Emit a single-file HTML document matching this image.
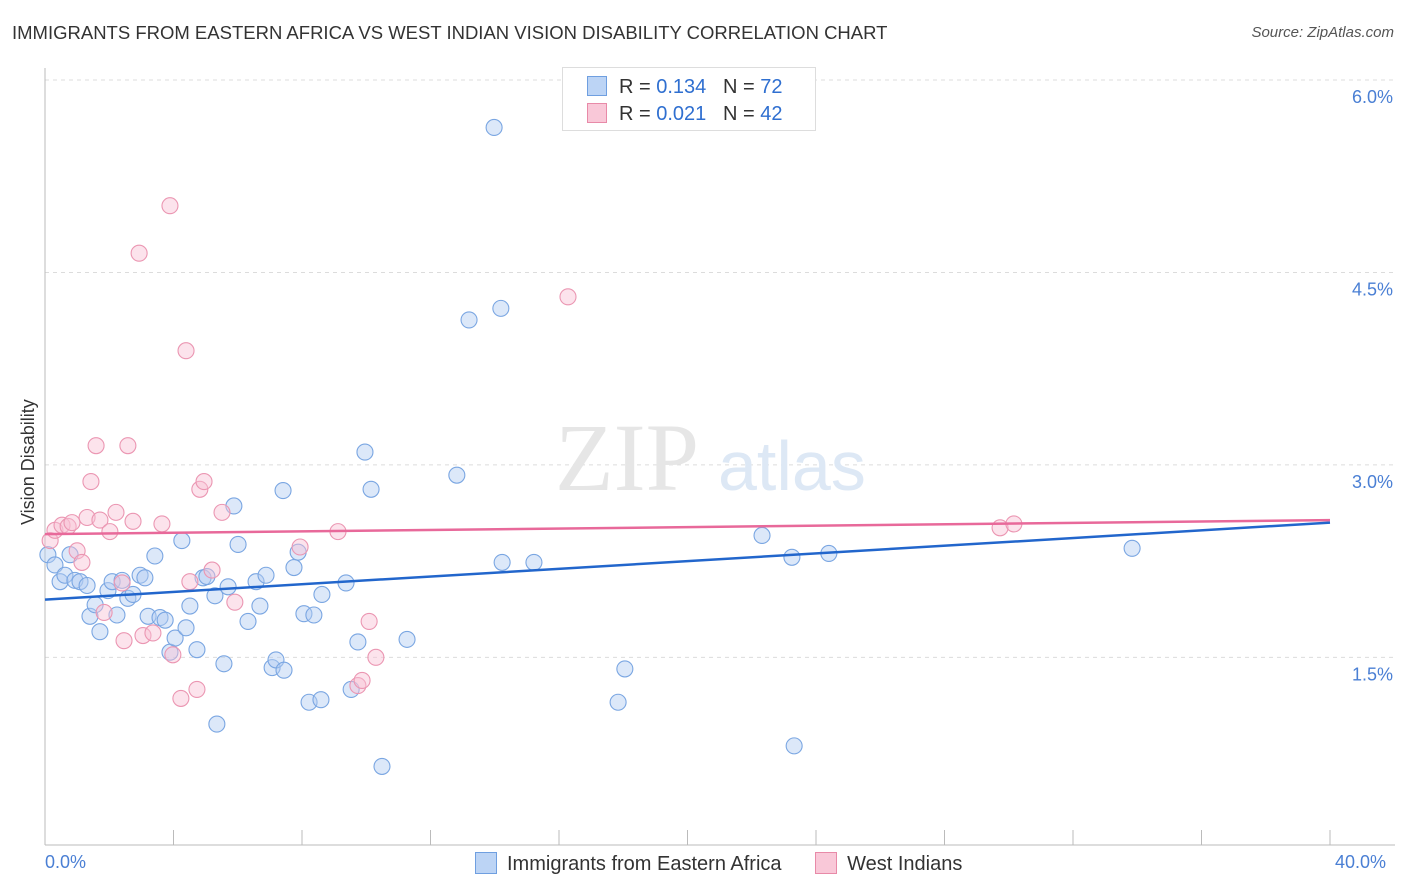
<!DOCTYPE html>
<html><head><meta charset="utf-8"><style>
body{margin:0;background:#fff;font-family:"Liberation Sans",sans-serif}
#c{position:relative;width:1406px;height:892px}
.t{position:absolute;white-space:nowrap}
</style></head><body>
<div id="c">
<div class="t" style="left:12px;top:22px;font-size:18.5px;color:#333">IMMIGRANTS FROM EASTERN AFRICA VS WEST INDIAN VISION DISABILITY CORRELATION CHART</div>
<div class="t" style="right:12px;top:24px;font-size:15px;color:#555;font-style:italic">Source: ZipAtlas.com</div>
<svg id="s" width="1406" height="892" style="position:absolute;left:0;top:0"></svg>
</div>
<script>
const blueX=[.09,.31,.47,.62,.78,.93,1.09,1.31,1.40,1.56,1.71,1.96,2.09,2.24,2.40,2.58,2.74,2.96,3.11,3.21,3.42,3.58,3.74,3.89,4.05,4.26,4.39,4.51,4.73,4.92,5.04,5.29,5.35,5.57,5.70,5.88,6.01,6.32,6.57,6.69,6.88,7.07,7.19,7.44,7.41,7.75,7.88,8.06,8.22,8.37,8.59,8.62,9.37,9.53,9.74,9.96,10.15,10.49,11.27,12.82,13.20,13.98,14.19,14.23,15.22,17.84,18.05,22.32,23.25,23.32,24.40,33.84];
const blueY=[2.30,2.22,2.09,2.14,2.30,2.10,2.09,2.06,1.82,1.91,1.70,2.02,2.09,1.83,2.10,1.96,1.99,2.14,2.12,1.82,2.29,1.81,1.79,1.54,1.65,2.41,1.73,1.90,1.56,2.12,2.13,1.98,0.98,1.45,2.05,2.68,2.38,1.78,2.09,1.90,2.14,1.42,1.48,1.40,2.80,2.20,2.32,1.84,1.15,1.83,1.17,1.99,2.08,1.25,1.62,3.10,2.81,0.65,1.64,2.92,4.13,5.63,4.22,2.24,2.24,1.15,1.41,2.45,2.28,0.81,2.31,2.35];
const pinkX=[.16,.31,.53,.72,.84,1.00,1.15,1.31,1.43,1.59,1.71,1.84,2.02,2.21,2.40,2.46,2.58,2.74,3.05,3.36,3.64,3.89,3.98,4.23,4.39,4.51,4.73,4.82,4.95,5.20,5.51,5.91,7.94,9.12,9.74,9.87,10.09,10.30,16.28,29.73,30.16,2.93];
const pinkY=[2.41,2.49,2.53,2.52,2.55,2.33,2.24,2.59,2.87,3.15,2.57,1.85,2.48,2.63,2.08,1.63,3.15,2.56,1.67,1.69,2.54,5.02,1.52,1.18,3.89,2.09,1.25,2.81,2.87,2.18,2.63,1.93,2.36,2.48,1.28,1.32,1.78,1.50,4.31,2.51,2.54,4.65];
const blueTrend=[1.95,2.55];
const pinkTrend=[2.46,2.57];
const yTicks=[1.5,3.0,4.5,6.0];
const yTickLabels=["1.5%","3.0%","4.5%","6.0%"];
const ns="http://www.w3.org/2000/svg",s=document.getElementById('s');
const X=v=>45+v*32.125, Y=v=>80+(6-v)*128.3;
function mk(t,a){const e=document.createElementNS(ns,t);for(const k in a)e.setAttribute(k,a[k]);s.appendChild(e);return e;}
yTicks.forEach((v,i)=>{const g=mk('line',{x1:45,x2:1395,y1:Y(v),y2:Y(v),stroke:'#dcdcdc','stroke-dasharray':'4,4'});


const t=mk('text',{x:1393,y:Y(v)+23,'text-anchor':'end','font-size':18,fill:'#4a7fd4'});t.textContent=yTickLabels[i];

});
let a=mk('line',{x1:45,x2:45,y1:68,y2:845,stroke:'#bbb'});
a=mk('line',{x1:45,x2:1395,y1:845,y2:845,stroke:'#bbb'});
for(let i=0;i<=10;i++){const k=mk('line',{x1:X(i*4),x2:X(i*4),y1:830,y2:845,stroke:'#bbb'});}
let wt=mk('text',{x:555,y:490,'font-size':96,fill:'#e6e6e6','font-family':'Liberation Serif'});wt.textContent='ZIP';
let wt2=mk('text',{x:718,y:490,'font-size':70,fill:'#dde8f5'});wt2.textContent='atlas';
function pts(xs,ys,f,st,n){xs.forEach((x,i)=>{const c=mk('circle',{cx:X(x),cy:Y(ys[i]),r:8,fill:f,'fill-opacity':0.45,stroke:st,'stroke-width':1.1});

});}
pts(blueX,blueY,'#b2cdf2','#7aa6e2','blue-point');
pts(pinkX,pinkY,'#f8c2d4','#eb96b2','pink-point');
let l=mk('line',{x1:X(0),x2:X(40),y1:Y(blueTrend[0]),y2:Y(blueTrend[1]),stroke:'#2266cc','stroke-width':2.5});
l=mk('line',{x1:X(0),x2:X(40),y1:Y(pinkTrend[0]),y2:Y(pinkTrend[1]),stroke:'#e8699a','stroke-width':2.5});
</script>
<div class="t" style="left:18px;top:525px;transform:rotate(-90deg);transform-origin:0 0;font-size:18px;color:#333">Vision Disability</div>
<div class="t" style="left:45px;top:852px;font-size:18px;color:#4a7fd4">0.0%</div>
<div class="t" style="left:1335px;top:852px;font-size:18px;color:#4a7fd4">40.0%</div>
<div style="position:absolute;left:562px;top:67px;width:252px;height:62px;border:1px solid #ddd;background:#fff;font-size:20px;color:#333">
<div class="t" style="left:26px;top:8px"><span style="display:inline-block;width:18px;height:18px;background:#bcd4f5;border:1px solid #6f9fe0;vertical-align:-3px;margin-right:12px;margin-left:-2px"></span>R = <span style="color:#2f6fd0">0.134</span>&nbsp;&nbsp;&nbsp;N = <span style="color:#2f6fd0">72</span></div>
<div class="t" style="left:26px;top:35px"><span style="display:inline-block;width:18px;height:18px;background:#f9c8d8;border:1px solid #e88aa8;vertical-align:-3px;margin-right:12px;margin-left:-2px"></span>R = <span style="color:#2f6fd0">0.021</span>&nbsp;&nbsp;&nbsp;N = <span style="color:#2f6fd0">42</span></div>
</div>
<div class="t" style="left:475px;top:852px;font-size:20px;color:#333">
<span style="display:inline-block;width:20px;height:20px;background:#bcd4f5;border:1px solid #6f9fe0;vertical-align:-4px;margin-right:10px"></span>Immigrants from Eastern Africa
<span style="display:inline-block;width:20px;height:20px;background:#f9c8d8;border:1px solid #e88aa8;vertical-align:-4px;margin:0 10px 0 28px"></span>West Indians</div>
</body></html>
